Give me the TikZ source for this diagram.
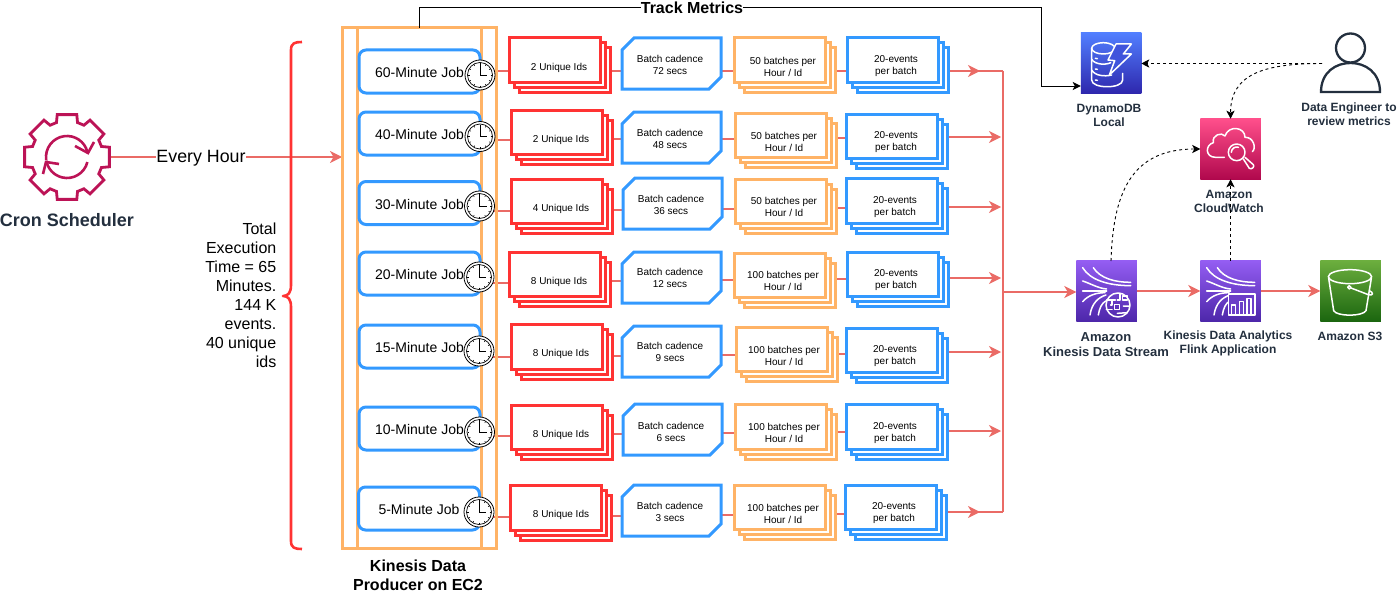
\documentclass[tikz,border=0pt]{standalone}
\usepackage{fontspec}
\setmainfont{Liberation Sans}
\usetikzlibrary{arrows.meta,backgrounds}
\definecolor{cred}{HTML}{FF3333}
\definecolor{cblue}{HTML}{3399FF}
\definecolor{corange}{HTML}{FFB366}
\definecolor{cflow}{HTML}{EA6B66}
\definecolor{cdark}{HTML}{232F3E}
\definecolor{cgear}{HTML}{BC1356}
\tikzset{
  flow/.style={draw=cflow,line width=1.5pt},
  flowto/.style={flow,-{Stealth[length=12pt,width=12pt,inset=3.5pt]}},
  metricline/.style={draw=black,line width=1pt},
  metricto/.style={metricline,-{Stealth[length=8pt,width=8pt,inset=2pt]}},
  dashline/.style={draw=black,line width=.9pt,dash pattern=on 3pt off 3pt,-{Stealth[length=8pt,width=8pt,inset=2pt]}},
  boxline/.style={line width=3pt,fill=white,line join=miter},
  stacktop/.style={boxline,rectangle,minimum width=91pt,minimum height=44.5pt,inner sep=0pt,outer sep=0pt,anchor=north west},
  hexbox/.style={rectangle,minimum width=99pt,minimum height=51pt,inner sep=0pt,outer sep=0pt,anchor=north west},
  jobbox/.style={boxline,draw=cblue,rectangle,rounded corners=7pt,minimum width=121pt,minimum height=43pt,inner sep=0pt,outer sep=0pt,anchor=north west,font=\fontsize{14}{16}\selectfont,text height=12pt,text depth=0pt},
  clockface/.style={circle,draw=black,line width=.8pt,fill=white,minimum size=30pt,inner sep=0pt,outer sep=0pt},
  smalltext/.style={font=\fontsize{10}{12}\selectfont,align=center,inner sep=0pt},
  awslabel/.style={font=\fontsize{12}{14}\selectfont\bfseries,text=cdark,align=center,inner sep=0pt},
  iconline/.style={draw=white,line width=1.5pt,line cap=round,line join=round},
  iconbox/.style={minimum size=60.5pt,inner sep=0pt,outer sep=0pt,rectangle},
  zoomed/.style={x=.33333pt,y=-.33333pt},
  darkline/.style={draw=cdark,line width=2.3pt},
}
\newcommand\stk[7]{%
  \draw[boxline,draw=#2] (#3+10,#4+10) rectangle ++(91,44.5);
  \draw[boxline,draw=#2] (#3+5,#4+5) rectangle ++(91,44.5);
  \node[stacktop,draw=#2] (#1) at (#3,#4) {};
  \node[smalltext] (#1t) at (#5,#6) {#7};
}
\newcommand\hexb[6]{%
  \draw[boxline,draw=cblue] (#2+12,#3) -- (#2+99,#3) -- (#2+99,#3+39) -- (#2+87,#3+51) -- (#2,#3+51) -- (#2,#3+12) -- cycle;
  \node[hexbox] (#1) at (#2,#3) {};
  \node[smalltext] (#1t) at (#4,#5) {#6};
}
\newcommand\clk[3]{%
  \node[clockface] (#1) at (#2,#3) {};
  \begin{scope}[shift={(#2,#3)}]
    \draw[black,line width=.7pt] (0,0) circle (12.5);
    \foreach \a in {0,30,...,330} \draw[black,line width=.5pt] (\a:10.5) -- (\a:12);
    \draw[black,line width=.8pt] (0,-11) -- (0,0) -- (7,0);
  \end{scope}
}
\newcommand\lnk[3]{\draw[flow] (#1.center |- 0,#3) -- (#2.center |- 0,#3);}
\newcommand\kinlines{%
  \draw[iconline] (160,143) .. controls (180,175) and (225,187) .. (272,187);
  \draw[iconline] (128,143) .. controls (150,180) and (205,197) .. (272,197);
  \draw[iconline] (128,183) .. controls (150,190) and (175,205) .. (200,207);
  \draw[iconline] (128,213) -- (200,213);
  \draw[iconline] (128,245) .. controls (145,225) and (170,218) .. (195,218);
  \draw[iconline] (150,285) .. controls (155,250) and (175,232) .. (198,225);
  \draw[iconline] (175,285) .. controls (178,265) and (185,250) .. (197,243);
}
\begin{document}
\begin{tikzpicture}[x=1pt,y=-1pt]
\useasboundingbox (0,0) rectangle (1400,594);
% frame
\node[draw=corange,line width=3pt,rectangle,minimum width=154pt,minimum height=520pt,inner sep=0pt,outer sep=0pt] (producer) at (419,288) {};
\draw[draw=corange,line width=3pt] (357,28) -- (357,548);
\draw[draw=corange,line width=3pt] (481,28) -- (481,548);
% jobs
\node[jobbox] (j1) at (359,50) {60-Minute Job};
\node[jobbox] (j2) at (359,112) {40-Minute Job};
\node[jobbox] (j3) at (359,181.5) {30-Minute Job};
\node[jobbox] (j4) at (359,252) {20-Minute Job};
\node[jobbox] (j5) at (359,325) {15-Minute Job};
\node[jobbox] (j6) at (359,407) {10-Minute Job};
\node[jobbox] (j7) at (358.5,487) {5-Minute Job};
\clk{c1}{480}{75}\clk{c2}{480}{136.5}\clk{c3}{479.5}{206}\clk{c4}{479}{277}\clk{c5}{479}{351}\clk{c6}{479.5}{432}\clk{c7}{479}{512}
% red stacks
\stk{r1}{cred}{509}{38}{559}{67.5}{2 Unique Ids}
\stk{r2}{cred}{511}{110}{561}{139.5}{2 Unique Ids}
\stk{r3}{cred}{511}{179}{561}{208.5}{4 Unique Ids}
\stk{r4}{cred}{509}{252}{559}{281.5}{8 Unique Ids}
\stk{r5}{cred}{511}{324.5}{561}{354}{8 Unique Ids}
\stk{r6}{cred}{511}{405}{561}{434.5}{8 Unique Ids}
\stk{r7}{cred}{510.5}{485.5}{561}{514.5}{8 Unique Ids}
% cadence
\hexb{h1}{622}{38}{670}{64.5}{Batch cadence\\72 secs}
\hexb{h2}{622}{112}{670}{138.5}{Batch cadence\\48 secs}
\hexb{h3}{623}{178}{671}{205}{Batch cadence\\36 secs}
\hexb{h4}{622}{252}{670}{278}{Batch cadence\\12 secs}
\hexb{h5}{622}{326}{670}{352}{Batch cadence\\9 secs}
\hexb{h6}{623}{404}{671}{431.5}{Batch cadence\\6 secs}
\hexb{h7}{622}{485}{670}{511.5}{Batch cadence\\3 secs}
% orange stacks
\stk{o1}{corange}{734}{38}{783}{66.5}{50 batches per\\Hour / Id}
\stk{o2}{corange}{735}{113}{784}{141.5}{50 batches per\\Hour / Id}
\stk{o3}{corange}{735}{179}{784}{207}{50 batches per\\Hour / Id}
\stk{o4}{corange}{734}{253}{783}{281}{100 batches per\\Hour / Id}
\stk{o5}{corange}{736}{327}{784}{355.5}{100 batches per\\Hour / Id}
\stk{o6}{corange}{735}{404.5}{784}{433}{100 batches per\\Hour / Id}
\stk{o7}{corange}{734}{485}{783}{513.5}{100 batches per\\Hour / Id}
% blue stacks
\stk{b1}{cblue}{847}{38}{896}{66.5}{20-events\\per batch}
\stk{b2}{cblue}{846}{114}{896}{142.5}{20-events\\per batch}
\stk{b3}{cblue}{846}{178.5}{895}{207}{20-events\\per batch}
\stk{b4}{cblue}{847}{252}{896}{280.5}{20-events\\per batch}
\stk{b5}{cblue}{846}{328}{895}{356}{20-events\\per batch}
\stk{b6}{cblue}{846}{404.5}{895}{433}{20-events\\per batch}
\stk{b7}{cblue}{845}{485}{894}{513.5}{20-events\\per batch}
% bus coordinates
\coordinate (busT) at (1003,71);
\coordinate (busM) at (1003,292);
\coordinate (busB) at (1003,512);
\coordinate (tipT) at (980,71);
\coordinate (tipB) at (980,512);
\coordinate (o2e) at (1001,137);
\coordinate (o3e) at (1001,207);
\coordinate (o4e) at (1001,278);
\coordinate (o5e) at (1001,352);
\coordinate (o6e) at (1001,431);
% icons
\node[minimum size=88pt,inner sep=0pt,outer sep=0pt,circle] (cron) at (67,157) {};
\begin{scope}[shift={(67,157)}]
  \draw[draw=cgear,line width=2.8pt,line join=miter]
    (-17:36) \foreach \a in {0,45,...,315} { -- ({\a-17}:36) -- ({\a-13}:43.5) -- ({\a+13}:43.5) -- ({\a+17}:36) } -- cycle;
  \draw[draw=cgear,line width=2.6pt] (172:21) arc[start angle=172,end angle=346,radius=21];
  \draw[draw=cgear,line width=2.6pt] (14:21) arc[start angle=14,end angle=170,radius=21];
  \draw[draw=cgear,line width=2.6pt] (8,-11) -- (21,-4) -- (27,-15);
  \draw[draw=cgear,line width=2.6pt] (-24,17) -- (-21,5) -- (-8,7);
\end{scope}
\node[iconbox,bottom color={rgb,255:red,46;green,39;blue,173},top color={rgb,255:red,82;green,127;blue,255}] (ddb) at (1111,63) {};
\node[iconbox,bottom color={rgb,255:red,176;green,8;blue,77},top color={rgb,255:red,255;green,79;blue,139}] (cw) at (1230.5,149) {};
\node[iconbox,bottom color={rgb,255:red,77;green,39;blue,170},top color={rgb,255:red,148;green,93;blue,242}] (kin) at (1106.5,291) {};
\node[iconbox,bottom color={rgb,255:red,77;green,39;blue,170},top color={rgb,255:red,148;green,93;blue,242}] (kda) at (1230.5,291) {};
\node[iconbox,bottom color={rgb,255:red,27;green,102;blue,15},top color={rgb,255:red,108;green,174;blue,62}] (s3) at (1350.5,291) {};
% dynamodb glyph
\begin{scope}[shift={(1040,20)},zoomed]
  \draw[iconline] (190,85) ellipse (35 and 17);
  \draw[iconline] (155,85) -- (155,180) .. controls (155,207) and (248,207) .. (248,180) -- (248,160);
  \draw[iconline] (225,85) -- (225,100);
  \draw[iconline] (155,118) .. controls (165,135) and (200,135) .. (212,128);
  \draw[iconline] (155,150) .. controls (165,168) and (195,170) .. (215,165);
  \draw[iconline] (166,115) -- (172,116);
  \draw[iconline] (166,147) -- (172,148);
  \draw[iconline] (166,180) -- (172,181);
  \draw[iconline,fill={rgb,255:red,64;green,84;blue,220}] (228,72) -- (274,72) -- (250,102) -- (274,102) -- (208,165) -- (224,122) -- (204,120) -- cycle;
\end{scope}
% cloudwatch glyph
\begin{scope}[shift={(1040,20)},zoomed]
  \draw[iconline] (553,412) -- (527,412) .. controls (495,412) and (495,375) .. (520,368) .. controls (515,345) and (545,335) .. (555,348) .. controls (565,315) and (615,320) .. (615,352) .. controls (640,350) and (650,385) .. (637,395);
  \draw[iconline] (590,397) circle (25);
  \draw[iconline] (574,397) arc[start angle=180,end angle=290,radius=16];
  \draw[iconline] (610,417) -- (628,445) .. controls (635,450) and (645,440) .. (640,434) -- (615,412);
\end{scope}
% kinesis glyph
\begin{scope}[shift={(1040,220)},zoomed]
  \kinlines
  \draw[iconline] (234,255) circle (36);
  \draw[iconline] (200,240) -- (226,240) (240,220) -- (240,240) -- (232,240);
  \draw[iconline] (248,228) rectangle (262,240);
  \draw[iconline] (199,268) -- (216,268) (224,254) rectangle (238,268);
  \draw[iconline] (250,258) -- (269,258) (232,280) -- (262,278);
  \draw[iconline] (212,255) -- (216,255) (216,240) -- (216,255);
\end{scope}
% analytics glyph
\begin{scope}[shift={(1164,220)},zoomed]
  \kinlines
  \draw[iconline,fill={rgb,255:red,107;green,62;blue,200}] (193,222) rectangle (273,285);
  \draw[iconline] (203,283) -- (203,255) -- (214,255) -- (214,283);
  \draw[iconline] (226,283) -- (226,245) -- (238,245) -- (238,283);
  \draw[iconline] (249,283) -- (249,235) -- (261,235) -- (261,283);
\end{scope}
% s3 glyph
\begin{scope}[shift={(1040,220)},zoomed]
  \draw[iconline] (930,170) ellipse (65 and 21);
  \draw[iconline] (866,175) -- (881,272) .. controls (890,290) and (968,290) .. (978,272) -- (994,175);
  \draw[iconline] (928,202) circle (5);
  \draw[iconline] (933,204) -- (985,224) .. controls (1000,228) and (1002,218) .. (988,212);
\end{scope}
% person
\node[minimum size=60pt,inner sep=0pt,outer sep=0pt] (eng) at (1350.5,63) {};
\draw[darkline] (eng.center |- 0,48) circle (14.5);
\draw[darkline] (1321,92) .. controls (1321,72) and (1336,63) .. (1350.5,63) .. controls (1365,63) and (1380,72) .. (1380,92) -- cycle;
\coordinate (engw) at (1322,63.5);
% labels
\node[inner sep=1pt,font=\fontsize{18}{20}\selectfont\bfseries,text=cdark] (cronl) at (67,220) {Cron Scheduler};
\node[awslabel] (ddbl) at (1109,115) {DynamoDB\\Local};
\node[awslabel] (engl) at (1349,114) {Data Engineer to\\review metrics};
\node[awslabel] (cwl) at (1229,201) {Amazon\\CloudWatch};
\node[awslabel,font=\fontsize{13}{15}\selectfont\bfseries] (kinl) at (1106,344.5) {Amazon\\Kinesis Data Stream};
\node[awslabel] (kdal) at (1228,343.5) {Kinesis Data Analytics\\Flink Application};
\node[awslabel] (s3l) at (1350,336) {Amazon S3};
\node[inner sep=0pt,font=\fontsize{16}{19}\selectfont\bfseries,align=center] (prodl) at (418,575) {Kinesis Data\\Producer on EC2};
\node[inner sep=0pt,font=\fontsize{16}{19}\selectfont,align=right,anchor=east] (total) at (276.5,295.5) {Total\\Execution\\Time = 65\\Minutes.\\144 K\\events.\\40 unique\\ids};
\node[fill=white,inner sep=0pt,font=\fontsize{17.8}{20}\selectfont] (every) at (201,158) {Every Hour};
\node[fill=white,inner sep=0pt,font=\fontsize{16}{19}\selectfont\bfseries] (tm) at (692,8) {Track Metrics};
% brace
\draw[cred,line width=2.6pt,line join=round] (302,42) .. controls (295,42) and (291,43) .. (291,50) -- (291,285) .. controls (291,293) and (288,296) .. (283,296) .. controls (288,296) and (291,299) .. (291,307) -- (291,541) .. controls (291,548) and (295,549) .. (302,549);
% connectors
\coordinate (hourL) at (111,157);
\begin{pgfonlayer}{background}
  \lnk{c1}{r1}{71}\lnk{r1}{h1}{71}\lnk{h1}{o1}{71}\lnk{o1}{b1}{71}
  \lnk{c2}{r2}{140}\lnk{r2}{h2}{139}\lnk{h2}{o2}{139}\lnk{o2}{b2}{138}
  \lnk{c3}{r3}{211}\lnk{r3}{h3}{210}\lnk{h3}{o3}{209}\lnk{o3}{b3}{208}
  \lnk{c4}{r4}{283}\lnk{r4}{h4}{281}\lnk{h4}{o4}{280}\lnk{o4}{b4}{279}
  \lnk{c5}{r5}{357}\lnk{r5}{h5}{356}\lnk{h5}{o5}{355}\lnk{o5}{b5}{354}
  \lnk{c6}{r6}{436}\lnk{r6}{h6}{434}\lnk{h6}{o6}{433}\lnk{o6}{b6}{432}
  \lnk{c7}{r7}{517}\lnk{r7}{h7}{516}\lnk{h7}{o7}{515}\lnk{o7}{b7}{514}
  \draw[flow] (b1.center |- busT) -- (busT);
  \draw[flowto] (b1.center |- tipT) -- (tipT);
  \draw[flowto] (b2.center |- o2e) -- (o2e);
  \draw[flowto] (b3.center |- o3e) -- (o3e);
  \draw[flowto] (b4.center |- o4e) -- (o4e);
  \draw[flowto] (b5.center |- o5e) -- (o5e);
  \draw[flowto] (b6.center |- o6e) -- (o6e);
  \draw[flow] (b7.center |- busB) -- (busB);
  \draw[flowto] (b7.center |- tipB) -- (tipB);
  \draw[flow] (busT) -- (busB);
  \draw[flow] (cron.east |- hourL) -- (every.west |- hourL);
  \draw[flowto] (every.east |- hourL) -- (producer.west |- hourL);
\end{pgfonlayer}
\draw[flowto] (busM) -- (kin.west |- busM);
\draw[flowto] (kin.east) -- (kda.west);
\draw[flowto] (kda.east) -- (s3.west);
\draw[metricline] (producer.north) |- (tm.west);
\coordinate (mc) at (1041,86);
\draw[metricto] (tm.east) -| (mc) -- (ddb.west |- mc);
\draw[dashline] (engw) -- (ddb.east |- engw);
\draw[dashline] (engw) .. controls (1262,63.5) and (1230.5,75) .. (cw.north);
\coordinate (kins) at (1111,261);
\draw[dashline] (kins) .. controls (1113,195) and (1130,149) .. (cw.west);
\draw[dashline] (kda.north) -- (cw.south);
\end{tikzpicture}
\end{document}
